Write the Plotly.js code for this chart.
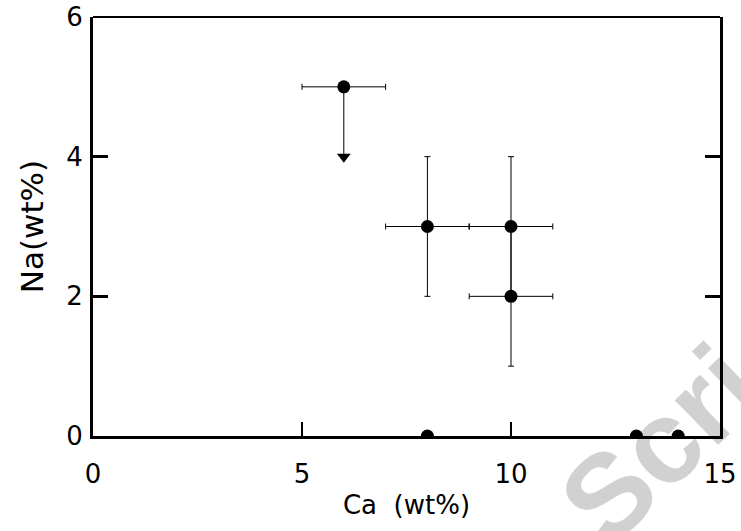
<!DOCTYPE html>
<html>
<head>
<meta charset="utf-8">
<script src="https://cdn.plot.ly/plotly-3.0.1.min.js"></script>
<style>html,body{margin:0;padding:0;background:#fff;}#chart{width:741px;height:531px;}</style>
</head>
<body>
<div id="chart"></div>
<script>
// Measured points with error bars
const caVals = [8, 10, 10];
const naVals = [3, 3, 2];
const caErr = [1, 1, 1];
const naErr = [1, 1, 1];
// Upper-limit point
const caLimit = [6];
const naLimit = [5];
const caLimitErr = [1];
const naLimitArrowTo = [4];
// Points at zero Na
const caZero = [8, 13, 14];
const naZero = [0, 0, 0];
const xTicks = [0, 5, 10, 15];
const yTicks = [0, 2, 4, 6];

const font = "DejaVu Sans, Liberation Sans, sans-serif";
const traces = [
  {
    x: caVals, y: naVals, type: 'scatter', mode: 'markers',
    marker: {color: '#000', size: 13},
    error_x: {type: 'data', array: caErr, color: '#000', thickness: 1, width: 3},
    error_y: {type: 'data', array: naErr, color: '#000', thickness: 1, width: 3},
    hoverinfo: 'none'
  },
  {
    x: caLimit, y: naLimit, type: 'scatter', mode: 'markers',
    marker: {color: '#000', size: 13},
    error_x: {type: 'data', array: caLimitErr, color: '#000', thickness: 1, width: 3},
    error_y: {type: 'data', symmetric: false, array: [0],
              arrayminus: naLimit.map((v, i) => v - naLimitArrowTo[i]), color: '#000', thickness: 1, width: 0},
    hoverinfo: 'none'
  },
  {
    x: caLimit, y: naLimitArrowTo, type: 'scatter', mode: 'markers',
    marker: {color: '#000', size: 12, symbol: 'triangle-down'},
    hoverinfo: 'none'
  },
  {
    x: caZero, y: naZero, type: 'scatter', mode: 'markers',
    marker: {color: '#000', size: 13},
    cliponaxis: true,
    hoverinfo: 'none'
  }
];

const layout = {
  width: 741, height: 531,
  margin: {l: 93, r: 21, t: 17, b: 95},
  paper_bgcolor: '#fff', plot_bgcolor: '#fff',
  showlegend: false,
  font: {family: font, size: 26, color: '#000'},
  xaxis: {
    range: [0, 15], tickvals: xTicks, ticktext: xTicks.map(String),
    showgrid: false, zeroline: false,
    showline: true, linewidth: 3, linecolor: '#000',
    ticks: 'inside', ticklen: 14, tickwidth: 2, tickcolor: '#000',
    ticklabelstandoff: 13,
    tickfont: {family: font, size: 26, color: '#000'},
    title: {text: 'Ca  (wt%)', font: {family: font, size: 26, color: '#000'}, standoff: 8}
  },
  yaxis: {
    range: [0, 6], tickvals: yTicks, ticktext: yTicks.map(String),
    showgrid: false, zeroline: false,
    showline: true, linewidth: 3, linecolor: '#000', mirror: 'ticks',
    ticks: 'inside', ticklen: 15, tickwidth: 3, tickcolor: '#000',
    ticklabelstandoff: 2,
    tickfont: {family: font, size: 26, color: '#000'},
    title: {text: 'Na(wt%)', font: {family: font, size: 31, color: '#000'}, standoff: 14}
  },
  shapes: [
    {type: 'line', xref: 'paper', yref: 'paper', x0: 0, x1: 1, y0: 1, y1: 1,
     line: {color: '#000', width: 2}}
  ],
  annotations: [
    {text: '<b>Scri</b>', xref: 'paper', yref: 'paper', x: 0.905, y: -0.02,
     showarrow: false, textangle: -44, xanchor: 'center', yanchor: 'middle',
     font: {family: 'Liberation Sans, Arial, sans-serif', size: 118, color: 'rgba(0,0,0,0.18)'}}
  ]
};

Plotly.newPlot('chart', traces, layout, {staticPlot: true});
</script>
</body>
</html>
